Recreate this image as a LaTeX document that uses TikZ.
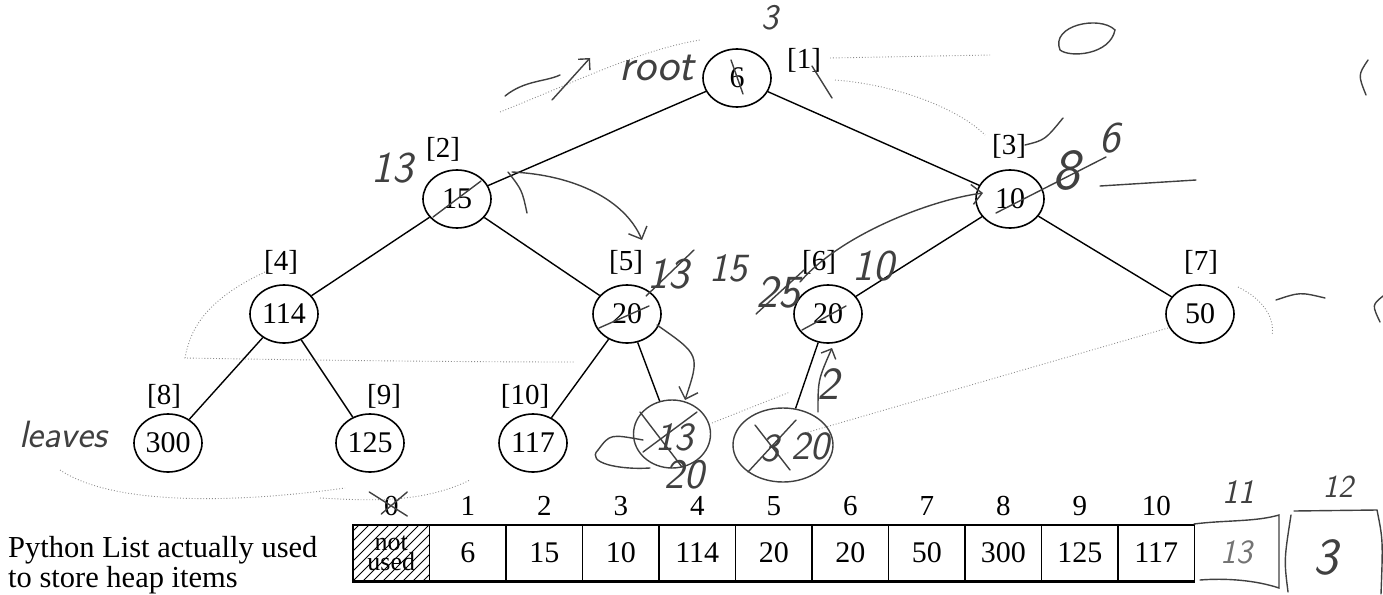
\documentclass[tikz,border=0pt]{standalone}
\usepackage{fontspec}
\setmainfont{Liberation Serif}
\usetikzlibrary{shapes.geometric,arrows.meta}
\tikzset{
  hnode/.style={draw, ellipse, line width=1.6pt, minimum width=68pt, minimum height=58pt, inner sep=0pt, font=\fontsize{30}{30}\selectfont},
  lbl/.style={font=\fontsize{29}{30}\selectfont, inner sep=0pt},
  cell/.style={draw, line width=1.4pt, minimum width=76.5pt, minimum height=56pt, inner sep=0pt, font=\fontsize{30}{30}\selectfont},
  idx/.style={font=\fontsize{29}{30}\selectfont, inner sep=0pt},
  edge/.style={line width=1.4pt},
  hw/.style={line width=1.4pt, black!75, line cap=round},
  faint/.style={line width=0.9pt, black!45, dotted},
  hwtext/.style={font=\fontsize{44}{44}\sffamily\itshape, text=black!75, inner sep=0pt},
}
\begin{document}
\begin{tikzpicture}[x=1pt,y=-1pt]
\useasboundingbox (0,0) rectangle (1383,594);
% tree nodes
\node[hnode] (r)   at (737,78)  {6};
\node[hnode] (n2)  at (457,199) {15};
\node[hnode] (n3)  at (1010,199) {10};
\node[hnode] (n4)  at (284,314) {114};
\node[hnode] (n5)  at (627,314) {20};
\node[hnode] (n6)  at (828,314) {20};
\node[hnode] (n7)  at (1200,314) {50};
\node[hnode] (n8)  at (168,443) {300};
\node[hnode] (n9)  at (370,443) {125};
\node[hnode] (n10) at (533,443) {117};
% index labels
\node[lbl] (l1)  at (804,60)  {[1]};
\node[lbl] (l2)  at (443,149) {[2]};
\node[lbl] (l3)  at (1009,146) {[3]};
\node[lbl] (l4)  at (281,262) {[4]};
\node[lbl] (l5)  at (626,262) {[5]};
\node[lbl] (l6)  at (819,262) {[6]};
\node[lbl] (l7)  at (1201,262) {[7]};
\node[lbl] (l8)  at (164,396) {[8]};
\node[lbl] (l9)  at (384,396) {[9]};
\node[lbl] (l10) at (525,396) {[10]};
% edges
\draw[edge] (r) -- (n2);
\draw[edge] (r) -- (n3);
\draw[edge] (n2) -- (n4);
\draw[edge] (n2) -- (n5);
\draw[edge] (n3) -- (n6);
\draw[edge] (n3) -- (n7);
\draw[edge] (n4) -- (n8);
\draw[edge] (n4) -- (n9);
\draw[edge] (n5) -- (n10);
% array caption
\node[anchor=base west, inner sep=0pt, font=\fontsize{30.5}{30}\selectfont] (pl1) at (8,557) {Python List actually used};
\node[anchor=base west, inner sep=0pt, font=\fontsize{30.5}{30}\selectfont] (pl2) at (8,587) {to store heap items};
% array cells
\begin{scope}
\clip (353,525) rectangle (429.5,581);
\foreach \k in {-8,...,10} \draw[line width=0.9pt] ({353+\k*10},581) -- ++(56,-56);
\end{scope}
\node[cell] (c0) at (391.25,553) {};
\node[inner sep=0pt, align=center, font=\fontsize{26}{20}\selectfont] (nu) at (391.25,553) {not\\used};
\foreach \i/\v in {1/6,2/15,3/10,4/114,5/20,6/20,7/50,8/300,9/125,10/117} {
  \node[cell] (c\i) at ({353+76.5*(\i+0.5)},553) {\v};
}
\draw[line width=2.6pt] (c0.south west) -- (c10.south east);
\foreach \i in {0,...,10} {
  \node[idx] (i\i) at ({353+76.5*(\i+0.5)},506) {\i};
}
% ---- faint pencil traces ----
\draw[faint] (500,112) .. controls (580,80) and (640,50) .. (700,40);
\draw[faint] (830,58) -- (990,55);
\draw[faint] (835,80) .. controls (900,85) and (960,110) .. (985,135);
\draw[faint] (265,272) .. controls (205,300) and (190,330) .. (185,358) .. controls (300,360) and (450,362) .. (575,362);
\draw[faint] (805,433) -- (1168,328);
\draw[faint] (712,423) -- (790,392);
\draw[faint] (1238,287) .. controls (1265,300) and (1275,320) .. (1272,335);
\draw[faint] (60,470) .. controls (120,510) and (260,500) .. (345,488);
\draw[faint] (320,498) .. controls (360,500) and (420,505) .. (470,480);
% ---- handwritten annotations ----
\node[hwtext, font=\fontsize{46}{46}\sffamily\itshape] (hroot) at (657,68) {root};
\draw[hw] (505,96) .. controls (525,80) and (545,82) .. (560,75);
\draw[hw,-{Straight Barb[length=8pt]}] (552,100) -- (590,58);
\node[hwtext, font=\fontsize{36}{36}\sffamily\itshape] (h3a) at (770,18) {3};
\draw[hw] (r) ++(-6,-18) -- ++(12,34);
\draw[hw] (812,66) -- (832,98);
\draw[hw] (1060,50) .. controls (1050,25) and (1100,15) .. (1115,30) .. controls (1110,55) and (1070,58) .. (1060,50);
\node[hwtext] (h13a) at (392,168) {13};
\draw[hw] (n2) ++(-24,18) -- ++(48,-36);
\draw[hw] (508,172) .. controls (522,190) .. (527,213);
\draw[hw,-{Straight Barb[length=10pt]}] (512,172) .. controls (575,175) and (625,200) .. (642,240);
\node[hwtext, font=\fontsize{58}{58}\sffamily\itshape] (h8) at (1066,170) {8};
\node[hwtext, font=\fontsize{44}{44}\sffamily\itshape] (h6) at (1110,138) {6};
\draw[hw] (1025,145) .. controls (1045,140) .. (1063,118);
\draw[hw] (n3) ++(-14,14) -- ++(110,-56);
\draw[hw] (1100,186) -- (1196,180);
\draw[hw,-{Straight Barb[length=10pt]}] (800,282) .. controls (840,235) and (930,200) .. (983,193);
\node[hwtext] (h13b) at (668,274) {13};
\draw[hw] (646,296) -- (694,250);
\node[hwtext, font=\fontsize{40}{40}\sffamily\itshape] (h15) at (728,268) {15};
\node[hwtext, font=\fontsize{46}{46}\sffamily\itshape] (h25) at (778,292) {25};
\draw[hw] (756,314) -- (804,270);
\node[hwtext] (h10) at (873,266) {10};
\draw[hw] (n5) ++(-28,14) -- ++(50,-22);
\draw[hw] (n6) ++(-26,16) -- ++(44,-24);
% new nodes
\node[draw, ellipse, hw, minimum width=77pt, minimum height=68pt, inner sep=0pt] (n11) at (672,434) {};
\node[hwtext, font=\fontsize{40}{40}\sffamily\itshape] (t11) at (674,437) {13};
\draw[hw] (640,412) -- (682,467);
\draw[hw] (643,452) -- (697,412);
\node[draw, ellipse, hw, minimum width=100pt, minimum height=74pt, inner sep=0pt] (n12) at (783,445) {};
\node[hwtext, font=\fontsize{40}{40}\sffamily\itshape] (t12a) at (770,448) {3};
\node[hwtext, font=\fontsize{40}{40}\sffamily\itshape] (t12b) at (810,446) {20};
\draw[hw] (748,472) -- (796,420);
\draw[hw] (755,425) -- (790,470);
\draw[edge] (n5) -- (n11);
\draw[edge] (n6) -- (n12);
\draw[hw,-{Straight Barb[length=10pt]}] (657,325) .. controls (700,355) .. (685,400);
\draw[hw] (598,450) .. controls (585,463) and (620,470) .. (650,468);
\draw[hw] (643,440) .. controls (610,434) .. (598,450);
\node[hwtext, font=\fontsize{42}{42}\sffamily\itshape] (h20) at (684,475) {20};
\node[hwtext, font=\fontsize{46}{46}\sffamily\itshape] (h2) at (828,384) {2};
\draw[hw,-{Straight Barb[length=8pt]}] (818,412) .. controls (818,380) .. (832,348);
\node[hwtext, font=\fontsize{38}{38}\sffamily\itshape] (hleaves) at (63,434) {leaves};
\draw[hw] (i0) ++(-22,-14) -- ++(38,24);
\draw[hw] (i0) ++(16,-14) -- ++(-26,22);
% stray marks at right
\draw[hw] (1276,300) .. controls (1300,292) .. (1325,298);
\draw[hw] (1383,296) .. controls (1372,305) .. (1380,322);
\draw[hw] (1368,60) .. controls (1358,75) .. (1366,95);
% extra cells 11, 12
\node[hwtext, font=\fontsize{34}{34}\sffamily\itshape] (h11) at (1238,492) {11};
\node[hwtext, font=\fontsize{32}{32}\sffamily\itshape] (h12) at (1338,487) {12};
\coordinate (a1) at (1194,524);
\coordinate (a2) at (1279,515);
\coordinate (a3) at (1279,588);
\coordinate (a4) at (1200,580);
\draw[hw] (a1) .. controls (1225,520) and (1255,522) .. (a2) -- (a3) .. controls (1255,580) and (1225,578) .. (a4);
\node[hwtext, font=\fontsize{34}{34}\sffamily\itshape, text=black!55] (x13) at (1236,552) {13};
\coordinate (b1) at (1291,515);
\coordinate (b2) at (1294,511);
\coordinate (b3) at (1377,510);
\coordinate (b4) at (1381,594);
\coordinate (b5) at (1288,592);
\draw[hw] (b2) -- (b3) .. controls (1383,540) .. (b4);
\draw[hw] (b1) .. controls (1284,560) .. (b5);
\node[hwtext, font=\fontsize{52}{52}\sffamily\itshape] (x3) at (1326,557) {3};
\end{tikzpicture}
\end{document}
